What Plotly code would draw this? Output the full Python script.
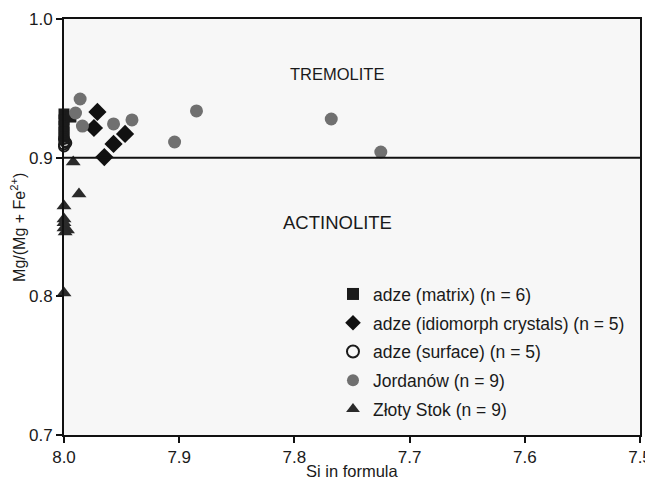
import plotly.graph_objects as go

# adze (matrix)
matrix_x = [8.0, 8.0, 8.0, 8.0, 8.0, 7.994]
matrix_y = [0.9315, 0.9272, 0.9228, 0.9185, 0.9149, 0.9293]

# adze (idiomorph crystals)
idio_x = [7.971, 7.974, 7.965, 7.957, 7.947]
idio_y = [0.9330, 0.9214, 0.9004, 0.9099, 0.9171]

# adze (surface)
surf_x = [8.0, 7.999, 8.0, 7.998, 8.0]
surf_y = [0.9135, 0.9115, 0.9095, 0.9105, 0.9080]

# Jordanów
jord_x = [7.986, 7.990, 7.984, 7.957, 7.941, 7.904, 7.885, 7.768, 7.725]
jord_y = [0.9423, 0.9322, 0.9228, 0.9243, 0.9272, 0.9113, 0.9337, 0.9279, 0.9041]

# Złoty Stok
zs_x = [7.992, 7.987, 8.0, 8.0, 8.0, 7.997, 8.0, 8.0, 7.999]
zs_y = [0.8969, 0.8738, 0.8651, 0.8558, 0.8493, 0.8478, 0.8024, 0.8530, 0.8464]

x_ticks = [8.0, 7.9, 7.8, 7.7, 7.6, 7.5]
y_ticks = [0.7, 0.8, 0.9, 1.0]

FONT = "Liberation Sans, Arial, sans-serif"

fig = go.Figure()
fig.add_trace(go.Scatter(x=matrix_x, y=matrix_y, mode="markers", name="adze (matrix) (n = 6)",
                         legendgroup="a",
                         marker=dict(symbol="square", size=11, color="#1b1b1b"), cliponaxis=False))
fig.add_trace(go.Scatter(x=idio_x, y=idio_y, mode="markers", name="adze (idiomorph crystals) (n = 5)",
                         legendgroup="b",
                         marker=dict(symbol="diamond", size=14, color="#111111"), cliponaxis=False))
fig.add_trace(go.Scatter(x=surf_x, y=surf_y, mode="markers", name="adze (surface) (n = 5)",
                         legendgroup="c",
                         marker=dict(symbol="circle-open", size=10, color="#1b1b1b", line=dict(width=2)),
                         cliponaxis=False))
fig.add_trace(go.Scatter(x=jord_x, y=jord_y, mode="markers", name="Jordanów (n = 9)",
                         legendgroup="d",
                         marker=dict(symbol="circle", size=13, color="#707070"), cliponaxis=False))
fig.add_trace(go.Scatter(x=zs_x, y=zs_y, mode="markers", name="Złoty Stok (n = 9)",
                         legendgroup="e",
                         marker=dict(symbol="triangle-up", size=13, color="#2a2a2a"), cliponaxis=False))

fig.add_shape(type="line", xref="paper", yref="y", x0=0, x1=1, y0=0.9, y1=0.9,
              line=dict(color="#111111", width=2))

fig.add_annotation(x=7.763, y=0.960, text="TREMOLITE", showarrow=False,
                   font=dict(family=FONT, size=16.5, color="#1a1a1a"))
fig.add_annotation(x=7.763, y=0.853, text="ACTINOLITE", showarrow=False,
                   font=dict(family=FONT, size=18.5, color="#1a1a1a"))

# axis titles as annotations
fig.add_annotation(xref="paper", yref="paper", x=0.5, y=-0.087, yanchor="middle",
                   text="Si in formula", showarrow=False,
                   font=dict(family=FONT, size=16.5, color="#1a1a1a"))
fig.add_annotation(xref="paper", yref="paper", x=-0.08, y=0.5, xanchor="center",
                   text="Mg/(Mg + Fe<sup>2+</sup>)", showarrow=False, textangle=-90,
                   font=dict(family=FONT, size=16, color="#1a1a1a"))

fig.update_layout(
    width=645, height=474,
    margin=dict(l=56, r=13, t=11, b=47),
    paper_bgcolor="white",
    plot_bgcolor="#f7f7f7",
    font=dict(family=FONT, size=17, color="#1a1a1a"),
    showlegend=True,
    legend=dict(x=0.467, y=0.382, xanchor="left", yanchor="top",
                bgcolor="rgba(0,0,0,0)", font=dict(family=FONT, size=17.5, color="#1a1a1a"),
                itemsizing="constant", itemwidth=30, tracegroupgap=3),
)
fig.update_xaxes(range=[8.0, 7.5], tickvals=x_ticks, ticktext=["8.0", "7.9", "7.8", "7.7", "7.6", "7.5"],
                 showgrid=False, zeroline=False, showline=True, linecolor="#111111", linewidth=2,
                 mirror=True, ticks="outside", ticklen=6, tickwidth=2, tickcolor="#111111",
                 automargin=False, tickfont=dict(size=17), ticklabeloverflow="allow")
fig.update_yaxes(range=[0.7, 1.0], tickvals=y_ticks, ticktext=["0.7", "0.8", "0.9", "1.0"],
                 showgrid=False, zeroline=False, showline=True, linecolor="#111111", linewidth=2,
                 mirror=True, ticks="outside", ticklen=6, tickwidth=2, tickcolor="#111111",
                 automargin=False, tickfont=dict(size=17), ticklabeloverflow="allow")

fig.write_html("out.html")
